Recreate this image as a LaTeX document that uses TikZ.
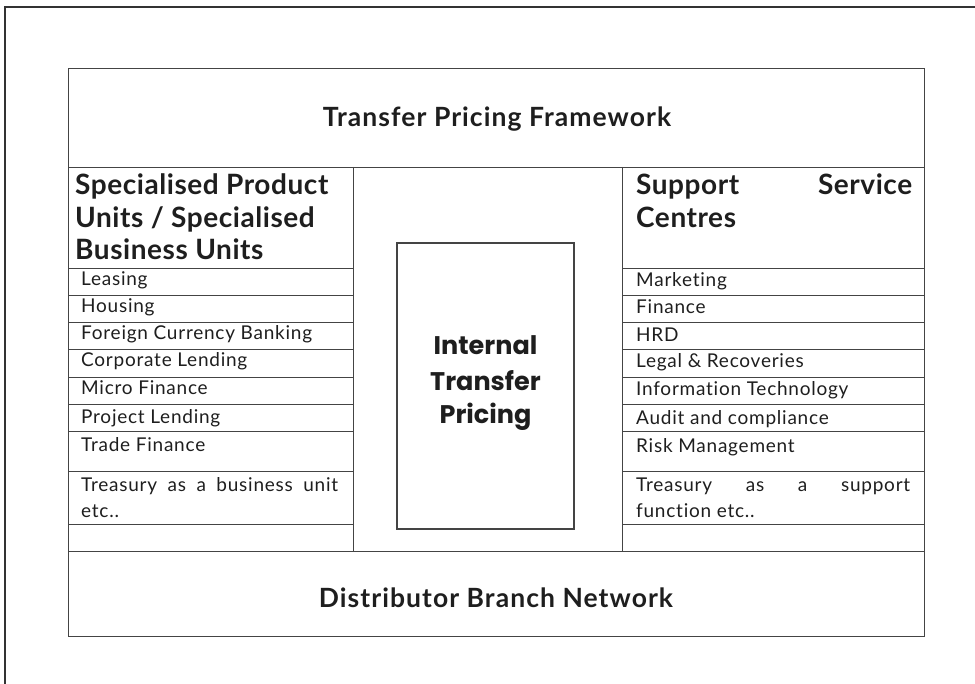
\documentclass[tikz,border=0pt]{standalone}
\usepackage{fontspec}
\setmainfont{Lato}[Ligatures=NoCommon]
\newfontfamily\gothic{Poppins}
\definecolor{ink}{HTML}{1E1E1E}
\definecolor{rule}{HTML}{444444}
\begin{document}
\begin{tikzpicture}[x=1pt,y=-1pt,
  grid/.style={draw=rule,line width=0.9pt},
  frame/.style={draw=black!80,line width=2pt},
  body/.style={anchor=base west,inner sep=0pt,text=ink,font=\fontsize{19}{22}\selectfont\addfontfeature{LetterSpace=4}},
  head/.style={anchor=base west,inner sep=0pt,text=ink,font=\fontsize{28}{32}\selectfont\bfseries\addfontfeature{LetterSpace=2}},
  title/.style={anchor=base,inner sep=0pt,text=ink,font=\fontsize{26.5}{30}\selectfont\bfseries\addfontfeature{LetterSpace=4}},
  itp/.style={anchor=center,inner sep=0pt,text=ink,font=\fontsize{25.5}{29}\selectfont\gothic\bfseries}]
\useasboundingbox (0,0) rectangle (975,684);
% outer frame (cropped at right and bottom)
\draw[frame] (5,684) -- (5,7) -- (975,7);
% main grid
\draw[grid] (68,68) rectangle (924,636);
\draw[grid] (68,167) -- (924,167);
\draw[grid] (68,551) -- (924,551);
\draw[grid] (353,167) -- (353,551);
\draw[grid] (622,167) -- (622,551);
\foreach \y in {268,295,322,349,377,404,431,471,524}{
  \draw[grid] (68,\y) -- (353,\y);
  \draw[grid] (622,\y) -- (924,\y);
}
% central box
\draw[grid,line width=1.2pt] (397,243) rectangle (574,529);
% titles
\node[title] (tpf) at (497,127) {Transfer Pricing Framework};
\node[title] (dbn) at (496,607) {Distributor Branch Network};
% left header
\node[head] (l1) at (75,195) {Specialised Product};
\node[head] (l2) at (75,228) {Units / Specialised};
\node[head] (l3) at (75,260) {Business Units};
% right header
\node[head] (r1) at (636,195) {\makebox[276pt][s]{Support Service}};
\node[head] (r2) at (636,228) {Centres};
% left rows
\node[body] (a1) at (81,286) {Leasing};
\node[body] (a2) at (81,313) {Housing};
\node[body] (a3) at (81,340) {Foreign Currency Banking};
\node[body] (a4) at (81,367) {Corporate Lending};
\node[body] (a5) at (81,395) {Micro Finance};
\node[body] (a6) at (81,424) {Project Lending};
\node[body] (a7) at (81,452) {Trade Finance};
\node[body] (a8) at (81,491) {\makebox[257pt][s]{Treasury as a business unit}};
\node[body] (a9) at (81,517) {etc..};
% right rows
\node[body] (b1) at (636,287) {Marketing};
\node[body] (b2) at (636,314) {Finance};
\node[body] (b3) at (636,342) {HRD};
\node[body] (b4) at (636,368) {Legal \& Recoveries};
\node[body] (b5) at (636,396) {Information Technology};
\node[body] (b6) at (636,425) {Audit and compliance};
\node[body] (b7) at (636,453) {Risk Management};
\node[body] (b8) at (636,492) {\makebox[274pt][s]{Treasury as a support}};
\node[body] (b9) at (636,518) {function etc..};
% centre
\node[itp] (c1) at (485.5,345) {Internal};
\node[itp] (c2) at (485.5,381) {Transfer};
\node[itp] (c3) at (485.5,417) {Pricing};
\end{tikzpicture}
\end{document}
